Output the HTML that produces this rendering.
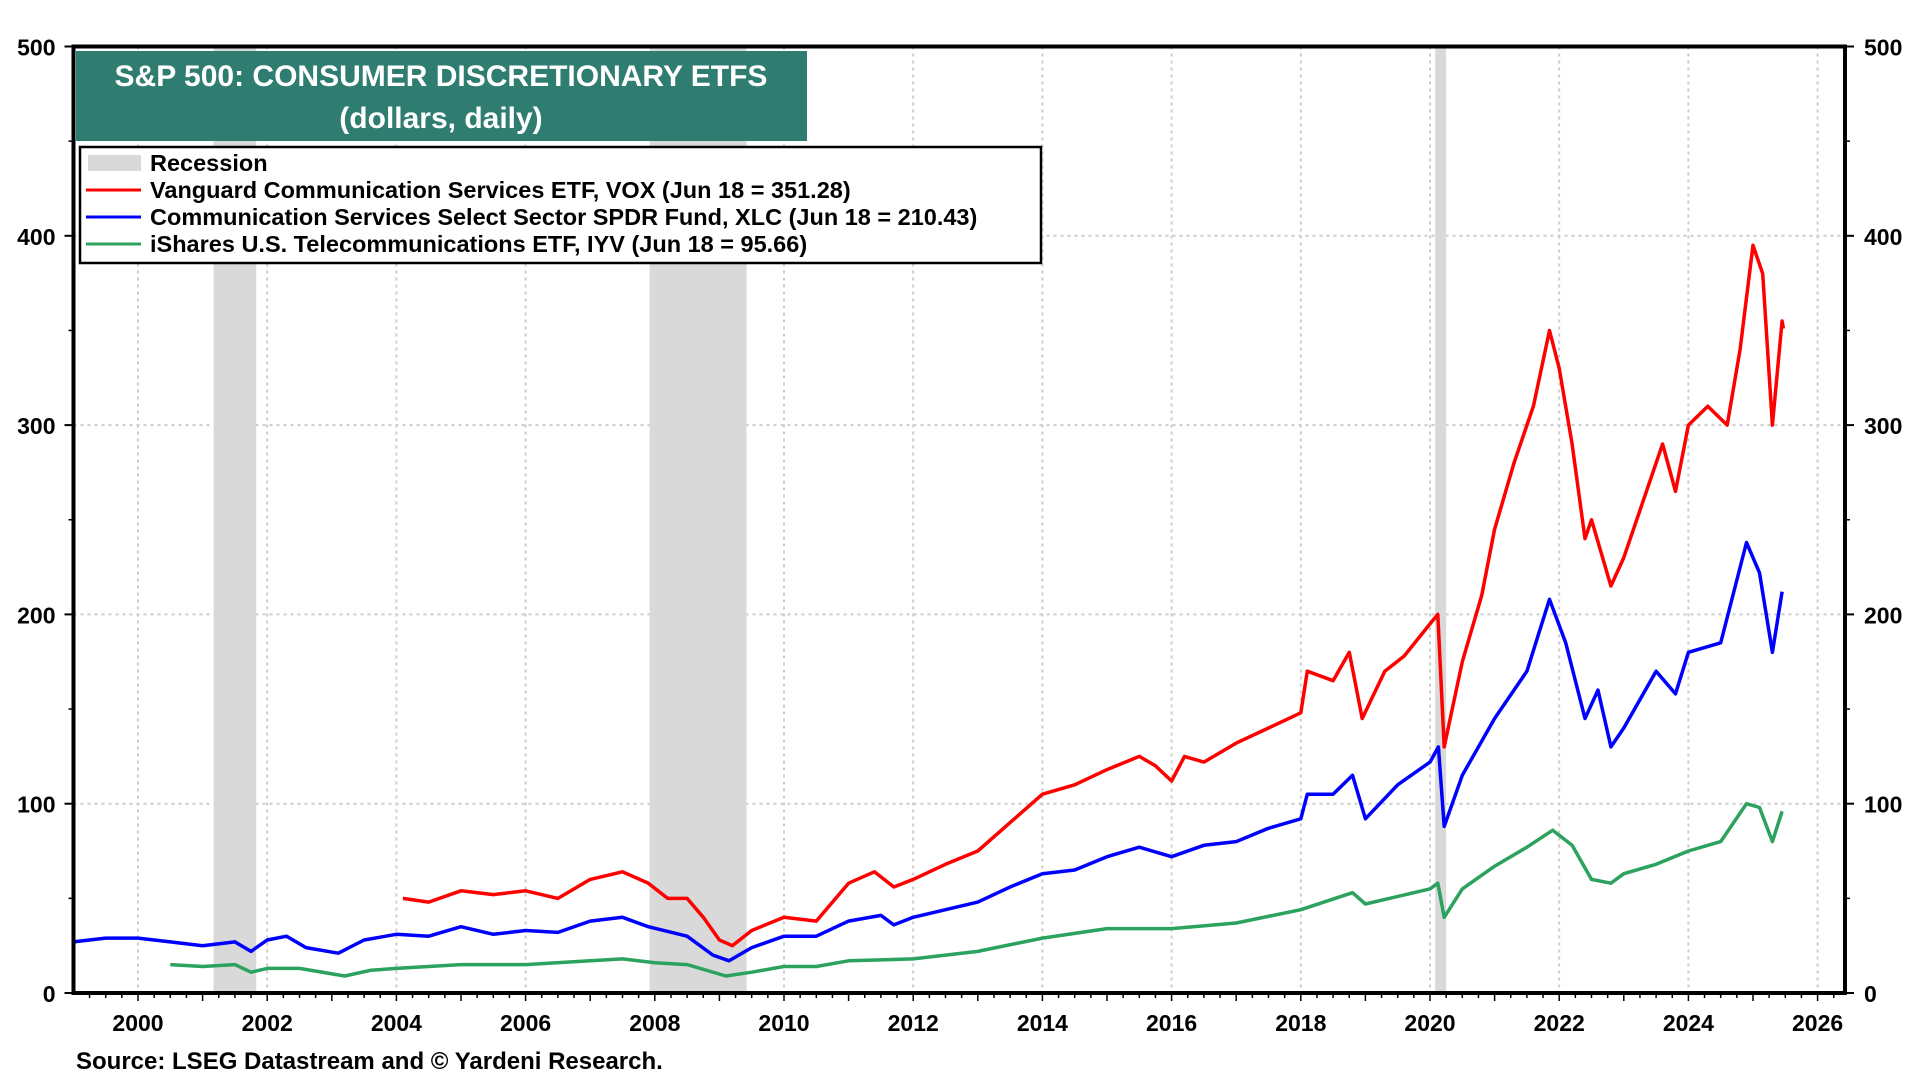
<!DOCTYPE html>
<html><head><meta charset="utf-8">
<style>
body{margin:0;background:#fff;width:1920px;height:1080px;overflow:hidden;font-family:"Liberation Sans",Arial,sans-serif;}
svg text{font-family:"Liberation Sans",Arial,sans-serif;font-weight:bold;}
</style></head>
<body>
<svg id="chart" width="1920" height="1080" xmlns="http://www.w3.org/2000/svg">
<g id="grid"></g>
<g id="rec"></g>
<g id="series"></g>
<g id="axes"></g>
<g>
<rect x="76" y="51" width="731" height="90" fill="#2e7d70"/>
<text x="441" y="86" text-anchor="middle" fill="#fff" font-size="30">S&amp;P 500: CONSUMER DISCRETIONARY ETFS</text>
<text x="441" y="128" text-anchor="middle" fill="#fff" font-size="30" font-weight="normal">(dollars, daily)</text>
</g>
<g>
<rect x="80" y="147" width="961" height="116" fill="#fff" stroke="#000" stroke-width="2.5"/>
<g><rect x="88" y="155" width="53" height="16" fill="#d9d9d9"/><text x="150" y="171" font-size="23.5">Recession</text></g>
<g><line x1="86" y1="190" x2="141" y2="190" stroke="#ff0000" stroke-width="3"/><text x="150" y="198" font-size="23.5">Vanguard Communication Services ETF, VOX (Jun 18 = 351.28)</text></g>
<g><line x1="86" y1="217" x2="141" y2="217" stroke="#0000ff" stroke-width="3"/><text x="150" y="225" font-size="23.5">Communication Services Select Sector SPDR Fund, XLC (Jun 18 = 210.43)</text></g>
<g><line x1="86" y1="244" x2="141" y2="244" stroke="#2ca25f" stroke-width="3"/><text x="150" y="252" font-size="23.5">iShares U.S. Telecommunications ETF, IYV (Jun 18 = 95.66)</text></g>
</g>
<text x="76" y="1069" font-size="24">Source: LSEG Datastream and © Yardeni Research.</text>
</svg>
<script>
const yTicks=[0,100,200,300,400,500];
const xTicks=[2000,2002,2004,2006,2008,2010,2012,2014,2016,2018,2020,2022,2024,2026];
const recessions=[[2001.17,2001.83],[2007.92,2009.42],[2020.08,2020.25]];
const voxT=[2004.1,2004.5,2005,2005.5,2006,2006.5,2007,2007.5,2007.9,2008.2,2008.5,2008.75,2009.0,2009.2,2009.5,2010,2010.5,2011,2011.4,2011.7,2012,2012.5,2013,2013.5,2014,2014.5,2015,2015.5,2015.75,2016,2016.2,2016.5,2017,2017.5,2018,2018.1,2018.5,2018.75,2018.95,2019.3,2019.6,2020.0,2020.12,2020.22,2020.5,2020.8,2021.0,2021.3,2021.6,2021.85,2022.0,2022.2,2022.4,2022.5,2022.8,2023.0,2023.3,2023.6,2023.8,2024.0,2024.3,2024.6,2024.8,2025.0,2025.15,2025.3,2025.45,2025.47];
const voxV=[50,48,54,52,54,50,60,64,58,50,50,40,28,25,33,40,38,58,64,56,60,68,75,90,105,110,118,125,120,112,125,122,132,140,148,170,165,180,145,170,178,195,200,130,175,210,245,280,310,350,330,290,240,250,215,230,260,290,265,300,310,300,340,395,380,300,355,351];
const xlcT=[1999,1999.5,2000,2000.5,2001,2001.5,2001.75,2002,2002.3,2002.6,2003.1,2003.5,2004,2004.5,2005,2005.5,2006,2006.5,2007,2007.5,2007.9,2008.5,2008.9,2009.15,2009.5,2010,2010.5,2011,2011.5,2011.7,2012,2012.5,2013,2013.5,2014,2014.5,2015,2015.5,2016,2016.5,2017,2017.5,2018,2018.1,2018.5,2018.8,2019,2019.5,2020.0,2020.13,2020.22,2020.5,2021,2021.5,2021.85,2022.1,2022.4,2022.6,2022.8,2023,2023.5,2023.8,2024,2024.5,2024.9,2025.1,2025.3,2025.45];
const xlcV=[27,29,29,27,25,27,22,28,30,24,21,28,31,30,35,31,33,32,38,40,35,30,20,17,24,30,30,38,41,36,40,44,48,56,63,65,72,77,72,78,80,87,92,105,105,115,92,110,122,130,88,115,145,170,208,185,145,160,130,140,170,158,180,185,238,222,180,212];
const iyvT=[2000.5,2001,2001.5,2001.75,2002,2002.5,2003.2,2003.6,2004,2005,2006,2007,2007.5,2008,2008.5,2009.1,2009.5,2010,2010.5,2011,2012,2013,2014,2015,2016,2017,2018,2018.8,2019,2020,2020.12,2020.22,2020.5,2021,2021.5,2021.9,2022.2,2022.5,2022.8,2023,2023.5,2024,2024.5,2024.9,2025.1,2025.3,2025.45];
const iyvV=[15,14,15,11,13,13,9,12,13,15,15,17,18,16,15,9,11,14,14,17,18,22,29,34,34,37,44,53,47,55,58,40,55,67,77,86,78,60,58,63,68,75,80,100,98,80,96];
const L=73.5,R=1845,T=46.5,B=993;
const X=t=>138+(t-2000)*64.6;
const Y=v=>B-(v/500)*(B-T);
const NS="http://www.w3.org/2000/svg";
function mk(tag,attrs,parent){const e=document.createElementNS(NS,tag);for(const k in attrs)e.setAttribute(k,attrs[k]);parent.appendChild(e);return e;}
const grid=document.getElementById('grid'),rec=document.getElementById('rec'),ser=document.getElementById('series'),ax=document.getElementById('axes');
yTicks.forEach(v=>{if(v>0&&v<500){const g=mk('line',{x1:L,x2:R,y1:Y(v),y2:Y(v),stroke:'#ccc','stroke-width':2,'stroke-dasharray':'3,4'},grid);

}});
xTicks.forEach(t=>{const g=mk('line',{x1:X(t),x2:X(t),y1:T,y2:B,stroke:'#ccc','stroke-width':2,'stroke-dasharray':'3,4'},grid);

});
recessions.forEach(r=>{const e=mk('rect',{x:X(r[0]),y:T,width:X(r[1])-X(r[0]),height:B-T,fill:'#d9d9d9'},rec);

});
function line(ts,vs,color,name){const d=ts.map((t,i)=>(i?'L':'M')+X(t).toFixed(1)+','+Y(vs[i]).toFixed(1)).join(' ');
const p=mk('path',{d:d,fill:'none',stroke:color,'stroke-width':3.5,'stroke-linejoin':'round'},ser);

}
line(iyvT,iyvV,'#2ca25f','iyv-line');
line(xlcT,xlcV,'#0000ff','xlc-line');
line(voxT,voxV,'#ff0000','vox-line');
mk('rect',{x:L,y:T,width:R-L,height:B-T,fill:'none',stroke:'#000','stroke-width':4},ax);
yTicks.forEach(v=>{
mk('line',{x1:L-9,x2:L,y1:Y(v),y2:Y(v),stroke:'#000','stroke-width':2},ax);
mk('line',{x1:R,x2:R+9,y1:Y(v),y2:Y(v),stroke:'#000','stroke-width':2},ax);
const a=mk('text',{x:L-18,y:Y(v)+9,'text-anchor':'end','font-size':23},ax);a.textContent=v;


const b=mk('text',{x:R+19,y:Y(v)+9,'font-size':23},ax);b.textContent=v;


if(v<500){mk('line',{x1:L-5,x2:L,y1:Y(v+50),y2:Y(v+50),stroke:'#000','stroke-width':1.5},ax);
mk('line',{x1:R,x2:R+5,y1:Y(v+50),y2:Y(v+50),stroke:'#000','stroke-width':1.5},ax);}
});
for(let t=1999.25;t<2026.4;t+=0.25){mk('line',{x1:X(t),x2:X(t),y1:B,y2:B+(Math.abs(t-Math.round(t))<0.01?8:5),stroke:'#000','stroke-width':1.5},ax);}
xTicks.forEach(t=>{const e=mk('text',{x:X(t),y:1031,'text-anchor':'middle','font-size':23},ax);e.textContent=t;

});
</script>
</body></html>
